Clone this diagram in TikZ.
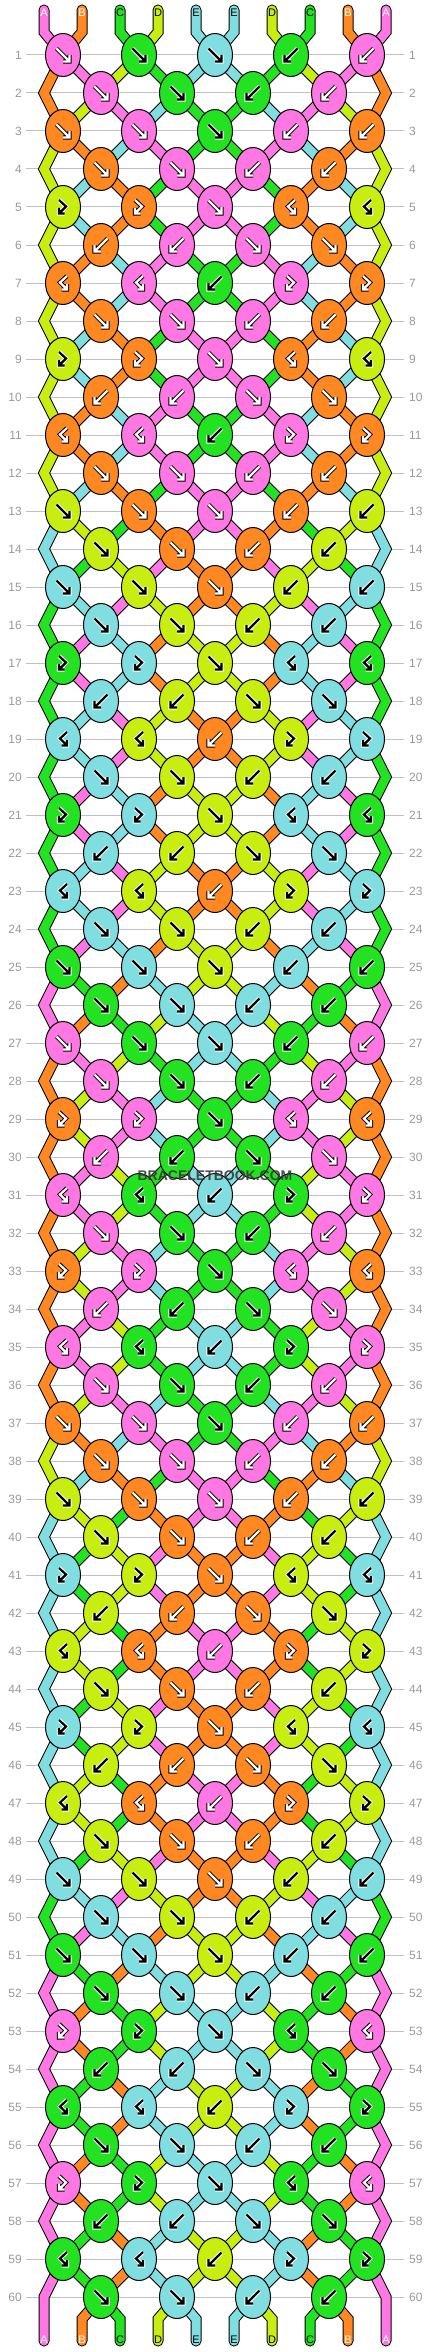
\documentclass[tikz,border=0pt]{standalone}
\usepackage{fontspec}
\setmainfont{Liberation Sans}
\usetikzlibrary{shapes.geometric}

\pgfdeclarelayer{grid}
\pgfdeclarelayer{threads}
\pgfsetlayers{grid,threads,main}

\definecolor{colA}{HTML}{FF77E2}
\definecolor{colB}{HTML}{FF8822}
\definecolor{colC}{HTML}{22E222}
\definecolor{colD}{HTML}{C8EE11}
\definecolor{colE}{HTML}{80DEE0}
\definecolor{numgray}{HTML}{999999}
\definecolor{linegray}{HTML}{C0C0C0}
\definecolor{markgray}{HTML}{383838}

% arrow and letter colours on each thread
\def\fgA{white}\def\fgB{white}\def\fgC{black}\def\fgD{black}\def\fgE{black}
\def\bgA{black}\def\bgB{black}\def\bgC{white}\def\bgD{white}\def\bgE{white}

% f forward, b backward, p forward-backward, q backward-forward
\def\ktf{\edef\kc{\lft}\def\doswap{1}}
\def\ktb{\edef\kc{\rgt}\def\doswap{1}}
\def\ktp{\edef\kc{\lft}\def\doswap{0}}
\def\ktq{\edef\kc{\rgt}\def\doswap{0}}

\def\sympathf{(-6.5,-6.5) -- (6,6) (0,6.5) -- (6.5,6.5) -- (6.5,0)}
\def\sympathb{(6.5,-6.5) -- (-6,6) (0,6.5) -- (-6.5,6.5) -- (-6.5,0)}
\def\sympathp{(-4,-7) -- (3,-0.5) -- (-3.6,6.1) (-4,1) -- (-4,6.5) -- (1.5,6.5)}
\def\sympathq{(4,-7) -- (-3,-0.5) -- (3.6,6.1) (4,1) -- (4,6.5) -- (-1.5,6.5)}

\newcommand\knotsym[3]{%
  \edef\fgc{\csname fg#3\endcsname}%
  \edef\bgc{\csname bg#3\endcsname}%
  \expandafter\let\expandafter\symp\csname sympath#1\endcsname
  \edef\cmd{\noexpand\draw[shift={(#2.center)}, symline, draw=\bgc, line width=4.2pt] \symp;
    \noexpand\draw[shift={(#2.center)}, symline, draw=\fgc, line width=2.2pt] \symp;}%
  \cmd}

\begin{document}
\begin{tikzpicture}[x=1pt, y=-1pt,
  knot/.style={ellipse, draw=black, line width=1pt, minimum width=35pt, minimum height=43pt, inner sep=0pt},
  thread/.style={draw=black, line width=1pt, double=#1, double distance=9pt, line join=miter, line cap=round},
  symline/.style={line join=miter, line cap=butt},
  rownum/.style={text=numgray, font=\fontsize{12}{14}\selectfont, inner sep=0pt},
  strname/.style={font=\fontsize{11}{13}\selectfont, inner sep=0pt},
  rowline/.style={draw=linegray, line width=1pt}]
\useasboundingbox (0,0) rectangle (430,2352);

\foreach \p/\lt in {1/A,2/B,3/C,4/D,5/E,6/E,7/D,8/C,9/B,10/A}{
  \expandafter\xdef\csname st\p\endcsname{\lt}
  \edef\fgc{\csname fg\lt\endcsname}
  \pgfmathsetmacro\lx{44+38*(\p-1)}
  \coordinate (top-\p) at (\lx,10);
  \coordinate (k-0-\p) at (\lx,32);
  \coordinate (k-61-\p) at (\lx,2319);
  \coordinate (bot-\p) at (\lx,2341);
  \node[strname, text=\fgc] (nt-\p) at (\lx,12.5) {\lt};
  \node[strname, text=\fgc] (nb-\p) at (\lx,2340) {\lt};
}

\foreach \row in {1,...,60}{
  \node[rownum, anchor=east] (nl-\row) at (22,{17+38*\row}) {\row};
  \node[rownum, anchor=west] (nr-\row) at (409,{17+38*\row}) {\row};
  \begin{pgfonlayer}{grid}
    \draw[rowline] ([xshift=4pt]nl-\row.east) -- ([xshift=-5pt]nr-\row.west);
  \end{pgfonlayer}
}

% knots
\foreach \code [count=\row] in {%
  {f,f,f,b,b},{f,f,b,b},{f,f,f,b,b},{f,f,b,b},%
  {p,p,f,q,q},{b,b,f,f},{q,q,b,p,p},{f,f,b,b},%
  {p,p,f,q,q},{b,b,f,f},{q,q,b,p,p},{f,f,b,b},%
  {f,f,f,b,b},{f,f,b,b},{f,f,f,b,b},{f,f,b,b},%
  {p,p,f,q,q},{b,b,f,f},{q,q,b,p,p},{f,f,b,b},%
  {p,p,f,q,q},{b,b,f,f},{q,q,b,p,p},{f,f,b,b},%
  {f,f,f,b,b},{f,f,b,b},{f,f,f,b,b},{f,f,b,b},%
  {p,p,f,q,q},{b,b,f,f},{q,q,b,p,p},{f,f,b,b},%
  {p,p,f,q,q},{b,b,f,f},{q,q,b,p,p},{f,f,b,b},%
  {f,f,f,b,b},{f,f,b,b},{f,f,f,b,b},{f,f,b,b},%
  {p,p,f,q,q},{b,b,f,f},{q,q,b,p,p},{f,f,b,b},%
  {p,p,f,q,q},{b,b,f,f},{q,q,b,p,p},{f,f,b,b},%
  {f,f,f,b,b},{f,f,b,b},{f,f,f,b,b},{f,f,b,b},%
  {p,p,f,q,q},{b,b,f,f},{q,q,b,p,p},{f,f,b,b},%
  {p,p,f,q,q},{b,b,f,f},{q,q,b,p,p},{f,f,b,b}}{
  \foreach \p in {1,...,10}{\expandafter\xdef\csname sv-\row-\p\endcsname{\csname st\p\endcsname}}
  \pgfmathtruncatemacro\y{17+38*\row}
  \ifodd\row\relax\else
    \coordinate (k-\row-0) at (44,\y);
    \coordinate (k-\row-10) at (386,\y);
  \fi
  \foreach \kind [count=\jj] in \code {
    \pgfmathtruncatemacro\p{2*\jj-mod(\row,2)}
    \pgfmathtruncatemacro\q{\p+1}
    \edef\lft{\csname st\p\endcsname}
    \edef\rgt{\csname st\q\endcsname}
    \csname kt\kind\endcsname
    \node[knot, fill=col\kc] (k-\row-\p) at ({63+38*(\p-1)},\y) {};
    \knotsym{\kind}{k-\row-\p}{\kc}
    \if1\doswap
      \expandafter\xdef\csname st\p\endcsname{\rgt}
      \expandafter\xdef\csname st\q\endcsname{\lft}
    \fi
  }
}
\foreach \p in {1,...,10}{\expandafter\xdef\csname sv-61-\p\endcsname{\csname st\p\endcsname}}

\node[font=\bfseries\fontsize{14}{16}\selectfont, text=markgray, opacity=0.9] (mark) at (215,1176) {BRACELETBOOK.COM};

% threads
\begin{pgfonlayer}{threads}
\foreach \p in {1,...,10}{
  \pgfmathtruncatemacro\ha{\p-1+mod(\p,2)}
  \edef\tc{\csname sv-1-\p\endcsname}
  \draw[thread=col\tc] (top-\p) -- (k-0-\p) -- (k-1-\ha.center);
}
\foreach \rb in {1,...,59}{
  \pgfmathtruncatemacro\nb{\rb+1}
  \foreach \p in {2,...,9}{
    \pgfmathtruncatemacro\ha{mod(\rb,2)==1 ? \p-1+mod(\p,2) : \p-mod(\p,2)}
    \pgfmathtruncatemacro\hb{mod(\nb,2)==1 ? \p-1+mod(\p,2) : \p-mod(\p,2)}
    \edef\tc{\csname sv-\nb-\p\endcsname}
    \draw[thread=col\tc] (k-\rb-\ha.center) -- (k-\nb-\hb.center);
  }
}
\foreach \p in {2,...,9}{
  \pgfmathtruncatemacro\ha{\p-mod(\p,2)}
  \edef\tc{\csname sv-61-\p\endcsname}
  \draw[thread=col\tc] (k-60-\ha.center) -- (k-61-\p) -- (bot-\p);
}
\foreach \row in {2,4,...,58}{
  \pgfmathtruncatemacro\pr{\row-1}
  \pgfmathtruncatemacro\nr{\row+1}
  \edef\tc{\csname sv-\row-1\endcsname}
  \draw[thread=col\tc] (k-\pr-1.center) -- (k-\row-0) -- (k-\nr-1.center);
  \edef\tc{\csname sv-\row-10\endcsname}
  \draw[thread=col\tc] (k-\pr-9.center) -- (k-\row-10) -- (k-\nr-9.center);
}
\edef\tc{\csname sv-60-1\endcsname}
\draw[thread=col\tc] (k-59-1.center) -- (k-60-0) -- (k-61-1) -- (bot-1);
\edef\tc{\csname sv-60-10\endcsname}
\draw[thread=col\tc] (k-59-9.center) -- (k-60-10) -- (k-61-10) -- (bot-10);
\end{pgfonlayer}
\end{tikzpicture}
\end{document}
